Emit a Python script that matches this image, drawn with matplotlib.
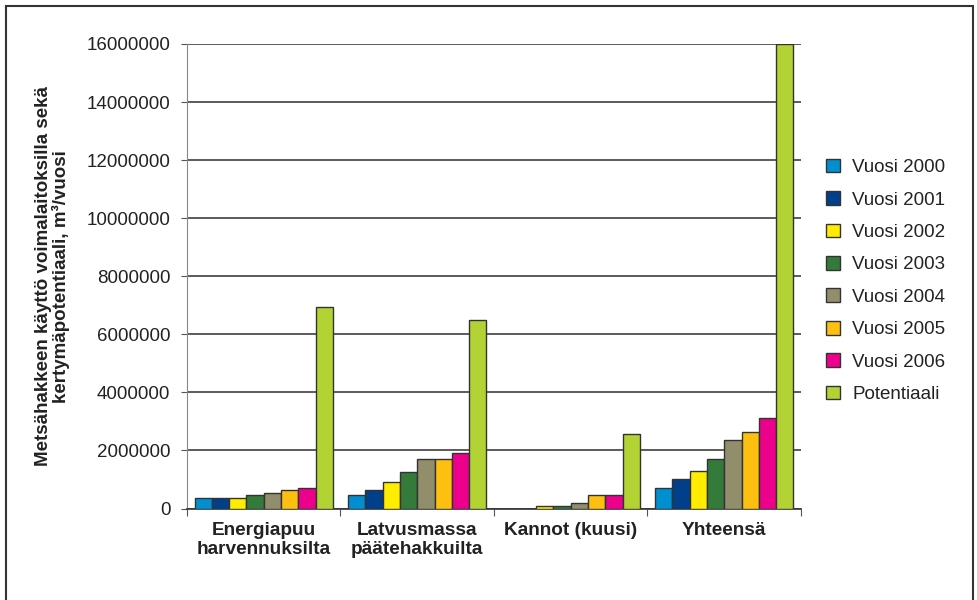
import numpy as np
import matplotlib.pyplot as plt
from matplotlib.patches import Rectangle

plt.rcParams['font.family'] = ['Liberation Sans', 'DejaVu Sans']

categories = ['Energiapuu\nharvennuksilta', 'Latvusmassa\npäätehakkuilta', 'Kannot (kuusi)', 'Yhteensä']
series = ['Vuosi 2000', 'Vuosi 2001', 'Vuosi 2002', 'Vuosi 2003',
          'Vuosi 2004', 'Vuosi 2005', 'Vuosi 2006', 'Potentiaali']
values = [
    [370000, 460000, 0, 720000],
    [370000, 640000, 0, 1010000],
    [350000, 910000, 90000, 1280000],
    [450000, 1270000, 80000, 1720000],
    [550000, 1720000, 180000, 2350000],
    [640000, 1710000, 460000, 2630000],
    [720000, 1900000, 460000, 3100000],
    [6950000, 6500000, 2550000, 16000000],
]
colors = ['#008fd0', '#003f8a', '#ffec00', '#347a3a', '#928d6a', '#fdc010', '#ec008c', '#b3d334']

fig = plt.figure(figsize=(9.78, 6), dpi=100)
ax = fig.add_axes([0.1912, 0.1525, 0.6278, 0.7742])

x = np.arange(len(categories))
w = 0.1125
for i, (name, vals) in enumerate(zip(series, values)):
    ax.bar(x - 0.45 + w * (i + 0.5), vals, width=w, color=colors[i],
           edgecolor='#333333', linewidth=1.0, label=name, zorder=3)

ax.set_xlim(-0.5, 3.5)
ax.set_ylim(0, 16000000)
ax.set_yticks(np.arange(0, 16000001, 2000000))
ax.set_yticklabels([str(v) for v in range(0, 16000001, 2000000)], fontsize=13.5, color='#222222')
ax.yaxis.grid(True, color='#404040', linewidth=1.2, zorder=0)
ax.tick_params(axis='y', length=4, width=0.8, color='#555555', pad=8)

ax.set_xticks(x)
ax.set_xticklabels(categories, fontsize=13.7, fontweight='bold', color='#222222', linespacing=1.1)
ax.tick_params(axis='x', length=0, pad=10)
ax.set_xticks(np.arange(-0.5, 3.6, 1), minor=True)
ax.tick_params(axis='x', which='minor', length=5, width=0.8, color='#555555')

for s in ['top', 'right']:
    ax.spines[s].set_visible(False)
ax.spines['left'].set_color('#888888')
ax.spines['bottom'].set_color('#333333')
ax.spines['bottom'].set_linewidth(1.2)

ax.set_ylabel('Metsähakkeen käyttö voimalaitoksilla sekä\nkertymäpotentiaali, m³/vuosi',
              fontsize=13.5, fontweight='bold', color='#222222', labelpad=12, linespacing=1.0)

ax.legend(loc='center left', bbox_to_anchor=(1.013, 0.49), frameon=False, fontsize=13.5,
          handlelength=0.75, handleheight=0.75, labelspacing=0.8, handletextpad=0.65,
          labelcolor='#222222')

fig.patches.append(Rectangle((0.006, -0.01), 0.989, 1.0, transform=fig.transFigure,
                             fill=False, edgecolor='#333333', linewidth=1.5))

fig.savefig('out.png', dpi=100)
